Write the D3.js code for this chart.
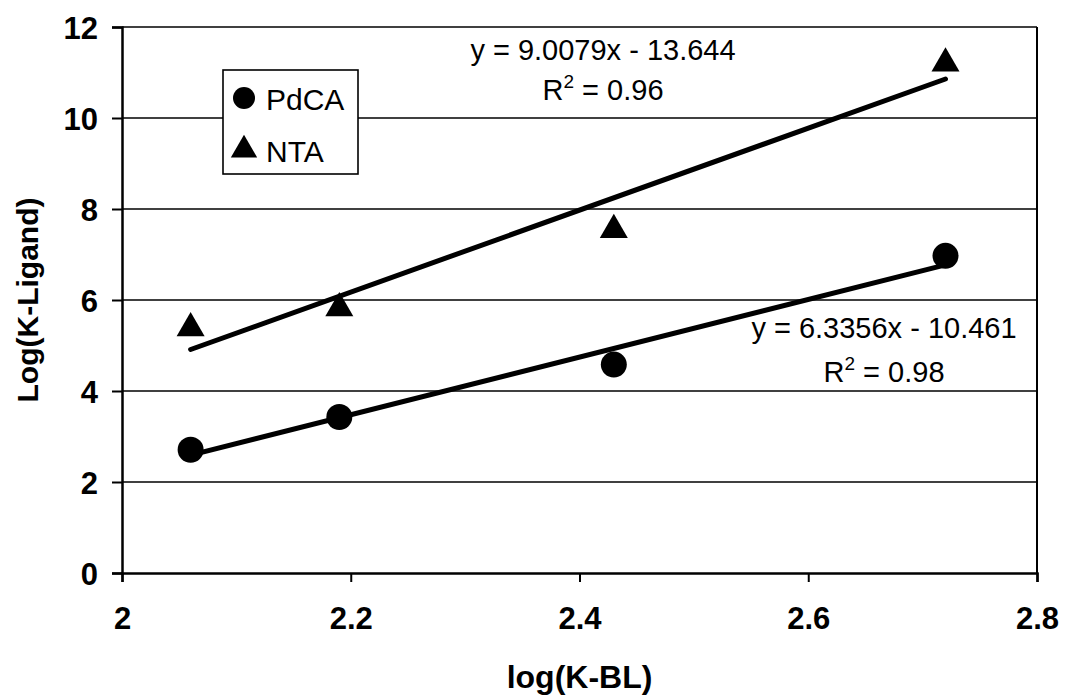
<!DOCTYPE html>
<html>
<head>
<meta charset="utf-8">
<script src="https://cdn.jsdelivr.net/npm/d3@7"></script>
<style>
  body { margin: 0; background: #fff; }
  svg { font-family: "Liberation Sans", Arial, sans-serif; }
</style>
</head>
<body>
<svg width="1066" height="696"></svg>
<script>
// data
const logKBL = [2.06, 2.19, 2.43, 2.72];
const pdca = [2.71, 3.43, 4.58, 6.97];
const nta = [5.38, 5.82, 7.54, 11.2];
const xTicks = [2, 2.2, 2.4, 2.6, 2.8];
const yTicks = [0, 2, 4, 6, 8, 10, 12];
// trendlines (slope, intercept) as printed on the chart
const fits = [
  { name: "PdCA", m: 6.3356, b: -10.461, eq: "y = 6.3356x - 10.461", r2: "0.98" },
  { name: "NTA", m: 9.0079, b: -13.644, eq: "y = 9.0079x - 13.644", r2: "0.96" }
];

const svg = d3.select("svg");
const plotL = 122, plotR = 1037, plotT = 27, plotB = 573;

const x = d3.scaleLinear().domain([2, 2.8]).range([plotL, plotR]);
const y = d3.scaleLinear().domain([0, 12]).range([plotB, plotT]);

// gridlines
svg.append("g")
  .selectAll("line")
  .data(yTicks.filter((d) => d > 0))
  .enter()
  .append("line")
  .attr("x1", plotL)
  .attr("x2", plotR)
  .attr("y1", (d) => y(d))
  .attr("y2", (d) => y(d))
  .attr("stroke", "#000")
  .attr("stroke-width", 1.6);

// right border of plot area
svg.append("line")
  .attr("x1", plotR).attr("x2", plotR)
  .attr("y1", plotT).attr("y2", plotB)
  .attr("stroke", "#000").attr("stroke-width", 2);

// axes
const xAxis = svg.append("g")
  .attr("transform", `translate(0,${plotB})`)
  .call(d3.axisBottom(x).tickValues(xTicks).tickSize(9).tickFormat(d3.format("")));
const yAxis = svg.append("g")
  .attr("transform", `translate(${plotL},0)`)
  .call(d3.axisLeft(y).tickValues(yTicks).tickSize(10).tickFormat(d3.format("")));

[xAxis, yAxis].forEach((g) => {
  g.select(".domain").attr("stroke", "#000").attr("stroke-width", 2.5);
  g.selectAll(".tick line").attr("stroke", "#000").attr("stroke-width", 2);
  g.selectAll("text")
    .attr("fill", "#000")
    .style("font-size", "31px")
    .style("font-weight", "bold")
    .style("font-family", "'Liberation Sans', Arial, sans-serif");
});
xAxis.selectAll("text").attr("y", 34).attr("dy", "0.71em");
yAxis.selectAll("text").attr("x", -24).attr("dy", "0.36em");

// axis titles
svg.append("text")
  .attr("x", (plotL + plotR) / 2)
  .attr("y", 688)
  .attr("text-anchor", "middle")
  .style("font-size", "32px")
  .style("font-weight", "bold")
  .text("log(K-BL)");

svg.append("text")
  .attr("transform", `translate(38,${(plotT + plotB) / 2}) rotate(-90)`)
  .attr("text-anchor", "middle")
  .style("font-size", "30px")
  .style("font-weight", "bold")
  .text("Log(K-Ligand)");

// trendlines
const x0 = d3.min(logKBL), x1 = d3.max(logKBL);
svg.append("g")
  .selectAll("line")
  .data(fits)
  .enter()
  .append("line")
  .attr("x1", x(x0))
  .attr("x2", x(x1))
  .attr("y1", (d) => y(d.m * x0 + d.b))
  .attr("y2", (d) => y(d.m * x1 + d.b))
  .attr("stroke", "#000")
  .attr("stroke-width", 5)
  .attr("stroke-linecap", "round");

// markers
const circle = d3.symbol().type(d3.symbolCircle).size(Math.PI * 13 * 13);
const tri = d3.symbol().type(d3.symbolTriangle).size(340);

svg.append("g")
  .selectAll("path")
  .data(logKBL.map((v, i) => [v, pdca[i]]))
  .enter()
  .append("path")
  .attr("d", circle)
  .attr("transform", (d) => `translate(${x(d[0])},${y(d[1])})`)
  .attr("fill", "#000");

svg.append("g")
  .selectAll("path")
  .data(logKBL.map((v, i) => [v, nta[i]]))
  .enter()
  .append("path")
  .attr("d", tri)
  .attr("transform", (d) => `translate(${x(d[0])},${y(d[1])})`)
  .attr("fill", "#000");

// equation labels
const eqPos = [
  { cx: 884, y1: 338, y2: 382 },
  { cx: 603, y1: 60, y2: 100 }
];
fits.forEach((f, i) => {
  const p = eqPos[i];
  svg.append("text")
    .attr("x", p.cx).attr("y", p.y1)
    .attr("text-anchor", "middle")
    .style("font-size", "29px")
    .text(f.eq);
  const t = svg.append("text")
    .attr("x", p.cx).attr("y", p.y2)
    .attr("text-anchor", "middle")
    .style("font-size", "29px");
  t.append("tspan").text("R");
  t.append("tspan").attr("dy", -12).style("font-size", "19px").text("2");
  t.append("tspan").attr("dy", 12).text(" = " + f.r2);
});

// legend
const legend = svg.append("g").attr("transform", "translate(223,70)");
legend.append("rect")
  .attr("width", 135).attr("height", 104)
  .attr("fill", "#fff").attr("stroke", "#000").attr("stroke-width", 1.6);
legend.append("path")
  .attr("d", d3.symbol().type(d3.symbolCircle).size(Math.PI * 11 * 11))
  .attr("transform", "translate(21,28)");
legend.append("text").attr("x", 43).attr("y", 40).style("font-size", "30px").text("PdCA");
legend.append("path")
  .attr("d", d3.symbol().type(d3.symbolTriangle).size(300))
  .attr("transform", "translate(21,80)");
legend.append("text").attr("x", 43).attr("y", 92).style("font-size", "30px").text("NTA");
</script>
</body>
</html>
